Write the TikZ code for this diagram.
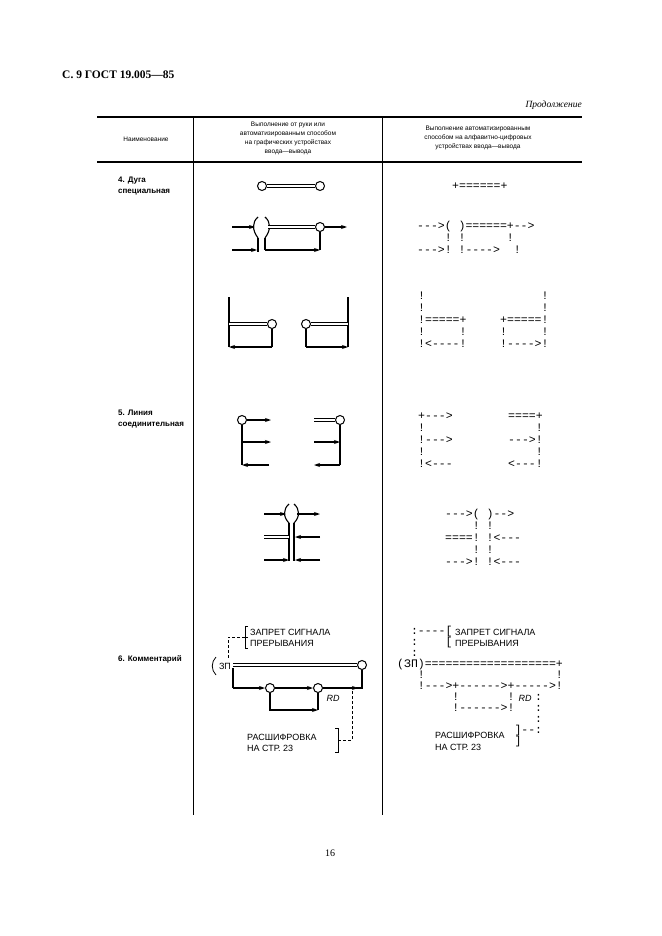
\documentclass[tikz,border=0pt]{standalone}
\usepackage{fontspec}
\setmainfont{Liberation Serif}
\setsansfont{Liberation Sans}
\newfontfamily\ascfont{Liberation Mono}
\usetikzlibrary{arrows.meta}
\tikzset{
  ln/.style={line width=1.1pt},
  dbl/.style={double, double distance=2.2pt, line width=0.8pt},
  arr/.style={-{Stealth[length=6pt,width=4pt]}, line width=1.1pt},
  pt/.style={circle, draw, line width=1pt, minimum size=9pt, inner sep=0pt, fill=white},
  asc/.style={font=\ascfont\fontsize{11.5}{12}\selectfont, inner sep=0pt, align=left, anchor=north west},
  lbl/.style={font=\sffamily\fontsize{9}{10}\selectfont, inner sep=0pt, align=left, anchor=west},
  hdr/.style={font=\sffamily\fontsize{6.5}{9}\selectfont, inner sep=0pt, align=center},
  dsh/.style={line width=0.8pt, dash pattern=on 3pt off 2pt}
}
\begin{document}
\begin{tikzpicture}[x=1pt,y=-1pt]
\useasboundingbox (0,0) rectangle (661,936);
% page head
\node[anchor=west, inner sep=0pt, font=\bfseries\fontsize{11.5}{12}\selectfont] (title) at (62,75) {С. 9 ГОСТ 19.005---85};
\node[anchor=east, inner sep=0pt, font=\itshape\fontsize{9.5}{10}\selectfont] (cont) at (582,105) {Продолжение};
\node[inner sep=0pt, font=\fontsize{10}{10}\selectfont] (page) at (330,853) {16};
% table
\draw[line width=1.2pt] (97,117) -- (582,117);
\draw[line width=1.2pt] (97,162) -- (582,162);
\draw[line width=0.8pt] (193,117) -- (193,815);
\draw[line width=0.8pt] (382,117) -- (382,815);
\node[hdr] (h1) at (146,139) {Наименование};
\node[hdr] (h2) at (288,138) {Выполнение от руки или\\автоматизированным способом\\на графических устройствах\\ввода---вывода};
\node[hdr] (h3) at (478,138) {Выполнение автоматизированным\\способом на алфавитно-цифровых\\устройствах ввода---вывода};
% row names
\node[lbl, anchor=north west, font=\sffamily\bfseries\fontsize{8}{11}\selectfont] (n4) at (118,177) {4. Дуга\\специальная};
\node[lbl, anchor=north west, font=\sffamily\bfseries\fontsize{8}{11}\selectfont] (n5) at (118,410) {5. Линия\\соединительная};
\node[lbl, anchor=north west, font=\sffamily\bfseries\fontsize{8}{11}\selectfont] (n6) at (118,655) {6. Комментарий};

% 4. arc, graphic
\node[pt] (a1) at (262,186) {};
\node[pt] (a2) at (320,186) {};
\draw[dbl] (a1) -- (a2);
\draw[ln] (258,238) .. controls (252,230) and (252,222) .. (258,217);
\draw[ln] (265,238) .. controls (271,230) and (271,222) .. (265,217);
\draw[ln] (258,238) -- (258,252);
\draw[ln] (265,238) -- (265,250);
\node[pt] (b1) at (320,227) {};
\draw[dbl] (268,227) -- (b1);
\coordinate (bi1) at (232,227);
\coordinate (bi2) at (232,250);
\coordinate (bo) at (347,227);
\draw[arr] (bi1) -- (255,227);
\draw[arr] (bi2) -- (257,250);
\draw[arr] (b1) -- (bo);
\draw[ln] (b1) -- (320,250);
\draw[arr] (265,250) -- (320,250);
% 4. arc, corners
\coordinate (c1t) at (229,297);
\coordinate (c1b) at (229,347);
\node[pt] (c1) at (272,324) {};
\draw[ln] (c1t) -- (c1b);
\draw[dbl] (229,324) -- (c1);
\draw[ln] (c1) |- (272,347);
\draw[arr] (272,347) -- (c1b);
\coordinate (c2t) at (348,297);
\coordinate (c2b) at (348,347);
\node[pt] (c2) at (306,324) {};
\draw[ln] (c2t) -- (c2b);
\draw[dbl] (c2) -- (348,324);
\draw[ln] (c2) -- (306,347);
\draw[arr] (306,347) -- (c2b);

% 5. connecting line, graphic
\node[pt] (d1) at (242,420) {};
\draw[arr] (d1) -- (271,420);
\draw[ln] (d1) -- (242,465);
\draw[arr] (242,442) -- (271,442);
\draw[arr] (269,465) -- (242,465);
\node[pt] (d2) at (340,420) {};
\draw[dbl] (314,420) -- (d2);
\draw[ln] (d2) -- (340,465);
\draw[arr] (314,442) -- (340,442);
\draw[arr] (340,465) -- (314,465);
% 5. bulb
\draw[ln] (289,523) .. controls (283,517) and (283,509) .. (289,504);
\draw[ln] (294,523) .. controls (300,517) and (300,509) .. (294,504);
\draw[ln] (289,523) -- (289,561);
\draw[ln] (294,523) -- (294,561);
\draw[arr] (264,514) -- (286,514);
\draw[arr] (297,514) -- (320,514);
\draw[dbl] (264,537) -- (289,537);
\draw[arr] (320,537) -- (295,537);
\draw[arr] (264,560) -- (289,560);
\draw[arr] (320,560) -- (295,560);

% 6. comment, graphic
\node[lbl] (z1) at (250,632) {ЗАПРЕТ СИГНАЛА};
\node[lbl] (z2) at (250,643) {ПРЕРЫВАНИЯ};
\draw[line width=0.7pt] (248,626) -- (245,626) -- (245,648) -- (248,648);
\draw[line width=0.7pt] (245,637) -- (248,637);
\draw[dsh] (245,637) -| (228,658);
\node[inner sep=0pt, font=\sffamily\fontsize{9}{10}\selectfont] (zp) at (225,666) {ЗП};
\draw[line width=0.8pt] (216,657) .. controls (211,662) and (211,670) .. (216,675);
\node[pt] (e0) at (362,665) {};
\draw[dbl] (233,665) -- (e0);
\node[pt] (e1) at (270,688) {};
\node[pt] (e2) at (318,688) {};
\draw[ln] (233,668) -- (233,688);
\draw[arr] (233,688) -- (e1);
\draw[arr] (e1) -- (e2);
\draw[arr] (e2) -- (358,688);
\draw[ln] (356,688) -| (e0);
\draw[ln] (e1) |- (300,710);
\draw[arr] (300,710) -- (318,710);
\draw[ln] (e2) -- (318,710);
\node[inner sep=0pt, font=\sffamily\itshape\fontsize{9}{10}\selectfont] (rd) at (333,698) {RD};
\node[lbl] (r1) at (247,737) {РАСШИФРОВКА};
\node[lbl] (r2) at (247,748) {НА СТР. 23};
\draw[line width=0.7pt] (335,728) -- (338,728) -- (338,752) -- (335,752);
\draw[dsh] (338,740) -| (352,690);

% right column: alphanumeric
\node[asc, anchor=west] (p1) at (452,186) {+======+};
\node[asc] (p2) at (417,221) {--->(~)======+-->\\~~~~!~!~~~~~~!\\--->!~!---->~~!};
\node[asc] (p3) at (418,292) {!\\!\\!=====+\\!~~~~~!\\!<----!};
\node[asc] (p4) at (500,292) {~~~~~~!\\~~~~~~!\\+=====!\\!~~~~~!\\!---->!};
\node[asc] (q1) at (418,413) {+--->\\!\\!--->\\!\\!<---};
\node[asc] (q2) at (508,413) {====+\\~~~~!\\--->!\\~~~~!\\<---!};
\node[asc] (q3) at (445,509) {--->(~)-->\\~~~~!~!\\====!~!<---\\~~~~!~!\\--->!~!<---};
\node[asc, font=\ascfont\fontsize{11.5}{11}\selectfont] (s1) at (397,626) {~~:----[\\~~:~~~~[\\~~:\\(ЗП)===================+\\~~~!~~~~~~~~~~~~~~~~~~~!\\~~~!--->+------>+----->!\\~~~~~~~~!~~~~~~~!~~~:\\~~~~~~~~!------>!~~~:\\~~~~~~~~~~~~~~~~~~~~:\\~~~~~~~~~~~~~~~~~]--:\\~~~~~~~~~~~~~~~~~]};
\node[lbl] (s2) at (455,632) {ЗАПРЕТ СИГНАЛА};
\node[lbl] (s3) at (455,643) {ПРЕРЫВАНИЯ};
\node[inner sep=0pt, font=\sffamily\itshape\fontsize{9}{10}\selectfont] (s4) at (525,698) {RD};
\node[lbl] (s5) at (435,735) {РАСШИФРОВКА};
\node[lbl] (s6) at (435,747) {НА СТР. 23};
\end{tikzpicture}
\end{document}
